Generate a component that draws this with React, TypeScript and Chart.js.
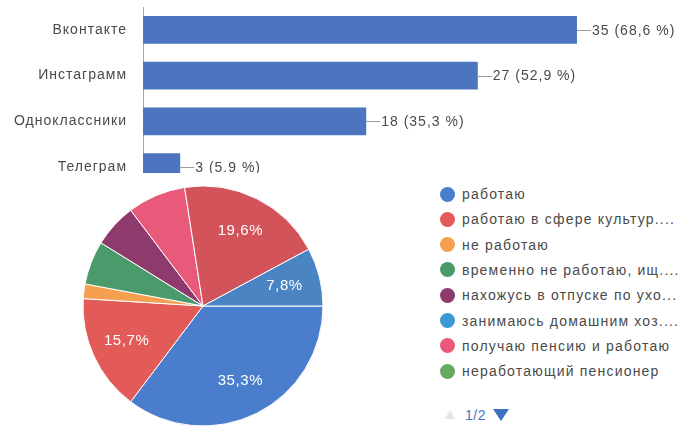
import React, { useEffect, useRef } from 'react';
import { Chart, registerables } from 'chart.js';

Chart.register(...registerables);

const FONT = '"Liberation Sans", Arial, sans-serif';

// ---- bar chart data ----
const barCategories = ['Вконтакте', 'Инстаграмм', 'Одноклассники', 'Телеграм'];
const barValues = [35, 27, 18, 3];
const barValueLabels = ['35 (68,6 %)', '27 (52,9 %)', '18 (35,3 %)', '3 (5.9 %)'];

// ---- pie chart data ----
const pieLabels = [
  'работаю',
  'работаю в сфере культур....',
  'не работаю',
  'временно не работаю, ищ....',
  'нахожусь в отпуске по ухо....',
  'занимаюсь домашним хоз....',
  'получаю пенсию и работаю',
  'неработающий пенсионер',
  'вариант 9',
  'вариант 10',
];
const pieValues = [18, 8, 1, 3, 3, 0, 4, 0, 10, 4];
const pieColors = [
  '#4a7dcc',
  '#e35b58',
  '#f6a04f',
  '#4b9a6c',
  '#8f3a6c',
  '#3a98d4',
  '#e95a7a',
  '#66a960',
  '#d2535a',
  '#4a84c2',
];
const pieLabelledSlices = [0, 1, 8, 9];
const legendItemsShown = 8;
const legendPageText = '1/2';

const spacingPlugin = {
  id: 'letterSpacing',
  beforeDraw(chart: any) {
    (chart.ctx as any).letterSpacing = '1px';
  },
};

const barLabelPlugin = {
  id: 'barLabels',
  afterDatasetsDraw(chart: any) {
    const ctx = chart.ctx;
    const meta = chart.getDatasetMeta(0);
    ctx.save();
    (ctx as any).letterSpacing = '1px';
    meta.data.forEach((el: any, i: number) => {
      const { x, y } = el.getProps(['x', 'y'], true);
      ctx.strokeStyle = '#9a9a9a';
      ctx.lineWidth = 1;
      ctx.beginPath();
      ctx.moveTo(x, Math.round(y) + 0.5);
      ctx.lineTo(x + 14, Math.round(y) + 0.5);
      ctx.stroke();
      ctx.fillStyle = '#4a4a4a';
      ctx.font = `14px ${FONT}`;
      ctx.textAlign = 'left';
      ctx.textBaseline = 'middle';
      ctx.fillText(barValueLabels[i], x + 15, y + 1);
    });
    ctx.restore();
  },
};

const pieLabelPlugin = {
  id: 'pieLabels',
  afterDatasetsDraw(chart: any) {
    const ctx = chart.ctx;
    const meta = chart.getDatasetMeta(0);
    const total = pieValues.reduce((a, b) => a + b, 0);
    ctx.save();
    (ctx as any).letterSpacing = '0.6px';
    ctx.fillStyle = '#ffffff';
    ctx.font = `15px ${FONT}`;
    ctx.textAlign = 'center';
    ctx.textBaseline = 'middle';
    pieLabelledSlices.forEach((i) => {
      const arc = meta.data[i];
      const { x, y, startAngle, endAngle, outerRadius } = arc.getProps(
        ['x', 'y', 'startAngle', 'endAngle', 'outerRadius'],
        true
      );
      const mid = (startAngle + endAngle) / 2;
      const r = outerRadius * 0.7;
      const txt = ((pieValues[i] / total) * 100).toFixed(1).replace('.', ',') + '%';
      ctx.fillText(txt, x + Math.cos(mid) * r, y + Math.sin(mid) * r);
    });
    ctx.restore();
  },
};

export default function App() {
  const barRef = useRef<HTMLCanvasElement>(null);
  const pieRef = useRef<HTMLCanvasElement>(null);

  useEffect(() => {
    const barChart = new Chart(barRef.current as HTMLCanvasElement, {
      type: 'bar',
      data: {
        labels: barCategories,
        datasets: [
          {
            data: barValues,
            backgroundColor: '#4c74bf',
            categoryPercentage: 1,
            barPercentage: 0.612,
          },
        ],
      },
      options: {
        indexAxis: 'y',
        animation: false,
        responsive: false,
        maintainAspectRatio: false,
        layout: { padding: { top: 7, bottom: 10, right: 39, left: 0 } },
        plugins: { legend: { display: false }, tooltip: { enabled: false } },
        scales: {
          x: { display: false, min: 0, max: 40 },
          y: {
            grid: { display: false, drawTicks: false },
            border: { display: true, color: '#a8a8a8', width: 1 },
            ticks: { padding: 16, color: '#4a4a4a', font: { size: 14, family: FONT } },
            afterFit: (s: any) => {
              s.width = 143;
              s.paddingTop = 0;
              s.paddingBottom = 0;
            },
          },
        },
      } as any,
      plugins: [spacingPlugin, barLabelPlugin],
    });

    const pieChart = new Chart(pieRef.current as HTMLCanvasElement, {
      type: 'pie',
      data: {
        labels: pieLabels,
        datasets: [
          {
            data: pieValues,
            backgroundColor: pieColors,
            borderColor: '#ffffff',
            borderWidth: 1,
          },
        ],
      },
      options: {
        animation: false,
        responsive: false,
        maintainAspectRatio: false,
        rotation: 90,
        radius: 120,
        layout: { padding: 0 },
        plugins: { legend: { display: false }, tooltip: { enabled: false } },
      } as any,
      plugins: [pieLabelPlugin],
    });

    return () => {
      barChart.destroy();
      pieChart.destroy();
    };
  }, []);

  return (
    <div
      style={{
        position: 'fixed',
        left: 0,
        top: 0,
        width: 678,
        height: 434,
        background: '#fff',
        overflow: 'hidden',
        fontFamily: FONT,
      }}
    >
      <div style={{ position: 'absolute', left: 0, top: 0, width: 678, height: 173, overflow: 'hidden' }}>
        <canvas ref={barRef} width={678} height={200} style={{ display: 'block' }} />
      </div>
      <canvas
        ref={pieRef}
        width={260}
        height={260}
        style={{ position: 'absolute', left: 73, top: 176, display: 'block' }}
      />
      {pieLabels.slice(0, legendItemsShown).map((lbl, i) => {
        const cy = 194 + i * 25.3;
        return (
          <React.Fragment key={i}>
            <div
              style={{
                position: 'absolute',
                left: 440,
                top: cy - 7.5,
                width: 15,
                height: 15,
                borderRadius: '50%',
                background: pieColors[i],
              }}
            />
            <div
              style={{
                position: 'absolute',
                left: 462,
                top: cy - 9,
                height: 18,
                lineHeight: '18px',
                fontSize: 14,
                letterSpacing: '1.2px',
                color: '#4a4a4a',
                whiteSpace: 'nowrap',
              }}
            >
              {lbl}
            </div>
          </React.Fragment>
        );
      })}
      <div
        style={{
          position: 'absolute',
          left: 445,
          top: 410,
          width: 0,
          height: 0,
          borderLeft: '5px solid transparent',
          borderRight: '5px solid transparent',
          borderBottom: '9px solid #e6e6e6',
        }}
      />
      <div
        style={{
          position: 'absolute',
          left: 465,
          top: 406,
          lineHeight: '18px',
          fontSize: 14,
          letterSpacing: '0.5px',
          color: '#4a74c4',
        }}
      >
        {legendPageText}
      </div>
      <div
        style={{
          position: 'absolute',
          left: 493,
          top: 409,
          width: 0,
          height: 0,
          borderLeft: '8px solid transparent',
          borderRight: '8px solid transparent',
          borderTop: '12px solid #3f6fc2',
        }}
      />
    </div>
  );
}
